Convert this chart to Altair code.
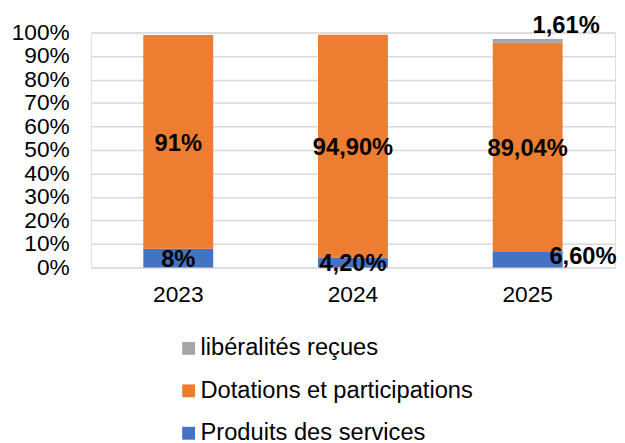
import altair as alt
import pandas as pd

years = ["2023", "2024", "2025"]
series = ["Produits des services", "Dotations et participations", "libéralités reçues"]
produits = [8.0, 4.2, 6.6]
dotations = [91.0, 94.9, 89.04]
liberalites = [0.0, 0.0, 1.61]
labels_produits = ["8%", "4,20%", "6,60%"]
labels_dotations = ["91%", "94,90%", "89,04%"]
labels_liberalites = ["", "", "1,61%"]

legend_order = ["libéralités reçues", "Dotations et participations", "Produits des services"]
colors = ["#A5A5A5", "#ED7D31", "#4472C4"]

rows = []
for i, y in enumerate(years):
    base = 0.0
    for k, (s, vals, labs) in enumerate(zip(series, [produits, dotations, liberalites],
                                            [labels_produits, labels_dotations, labels_liberalites])):
        v = vals[i]
        rows.append({"year": y, "series": s, "value": v, "order": k,
                     "start": base, "end": base + v, "mid": base + v / 2,
                     "label": labs[i]})
        base += v
df = pd.DataFrame(rows)

FONT = "Liberation Sans"

x_axis = alt.Axis(labelAngle=0, ticks=False, domain=False, labelFontSize=23,
                  labelColor="#000000", labelFont=FONT, labelPadding=16, grid=False)
x_scale = alt.Scale(paddingInner=0.6, paddingOuter=0.3)
y_axis = alt.Axis(tickCount=10, labelExpr="datum.value + '%'",
                  labelOverlap=False, labelBound=False, labelFlush=False,
                  ticks=False, domain=False, labelFontSize=23, labelFont=FONT,
                  labelColor="#000000", labelPadding=22, gridColor="#D9D9D9",
                  gridWidth=1.5)
y_scale = alt.Scale(domain=[0, 100], nice=False)

bars = alt.Chart(df).mark_bar().encode(
    x=alt.X("year:N", title=None, scale=x_scale, axis=x_axis),
    y=alt.Y("start:Q", title=None, scale=y_scale, axis=y_axis),
    y2="end:Q",
    color=alt.Color("series:N",
                    scale=alt.Scale(domain=legend_order, range=colors),
                    legend=alt.Legend(title=None, orient="none", legendX=87, legendY=308,
                                      direction="vertical", symbolType="square",
                                      symbolSize=170, symbolStrokeWidth=0,
                                      labelFontSize=24, labelFont=FONT, labelColor="#000000",
                                      rowPadding=19, labelOffset=0, labelLimit=400)),
)

txt_style = dict(fontSize=24, fontWeight="bold", font=FONT, color="#000000", baseline="middle")


def text_layer(flt, ycol, dx, dy):
    return alt.Chart(df).transform_filter(flt).mark_text(dx=dx, dy=dy, **txt_style).encode(
        x=alt.X("year:N", title=None, scale=x_scale, axis=x_axis),
        y=alt.Y(f"{ycol}:Q", title=None, scale=y_scale, axis=y_axis),
        text="label:N")


normal = text_layer("datum.label != '' && datum.label != '6,60%' && datum.label != '1,61%'",
                    "mid", 0, 2)
lab660 = text_layer("datum.label == '6,60%'", "mid", 56, -3)
lab161 = text_layer("datum.label == '1,61%'", "end", 39, -13)

chart = alt.layer(bars, normal, lab660, lab161).properties(
    width=531, height=238,
    autosize=alt.AutoSizeParams(type="none"),
    padding={"left": 84, "top": 22, "right": 2, "bottom": 175},
).configure_view(stroke=None).configure(font=FONT)

chart.save("out.html", embed_options={"renderer": "svg", "actions": False})
